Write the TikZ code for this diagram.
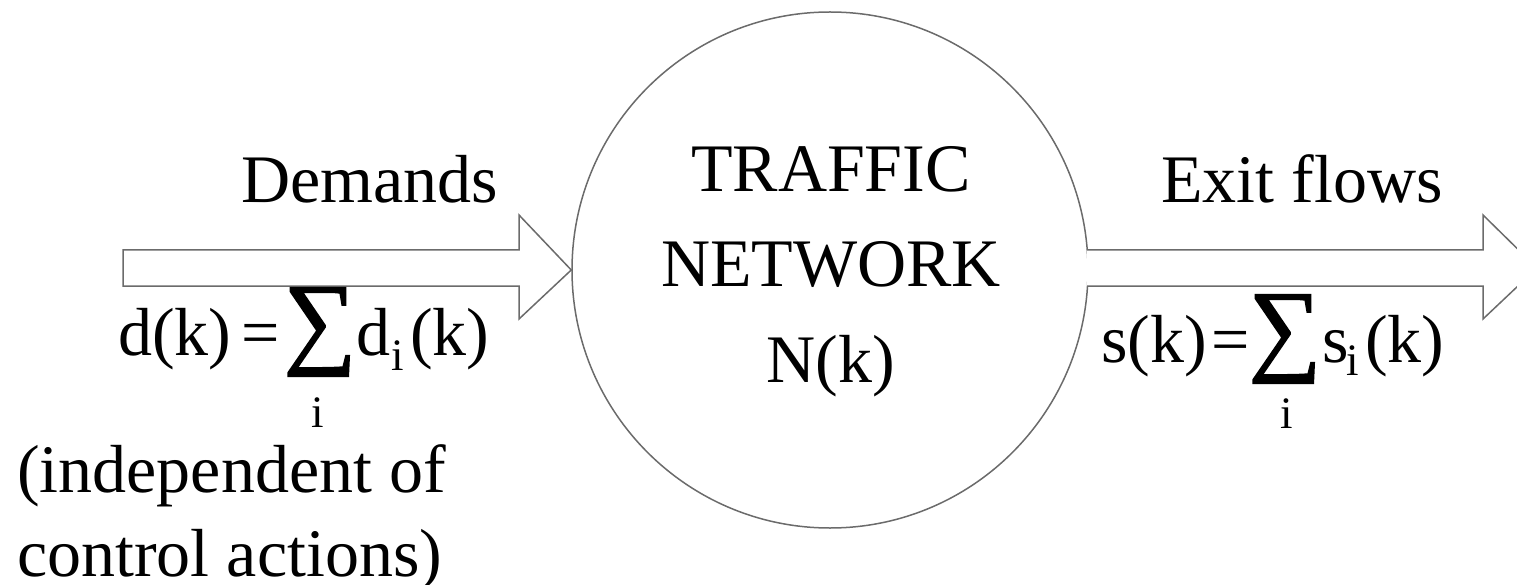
\documentclass[tikz,border=0pt]{standalone}
\usepackage{fontspec}
\setmainfont{Liberation Serif}
\newfontfamily\sumfont[FakeBold=1.5]{Liberation Serif}
\begin{document}
\begin{tikzpicture}[x=1pt,y=-1pt,
  big/.style={inner sep=0pt,font=\fontsize{68}{85}\selectfont},
  small/.style={inner sep=0pt,font=\fontsize{45}{50}\selectfont},
  sumsign/.style={inner sep=0pt,font=\fontsize{102}{102}\sumfont},
  outline/.style={draw=black!58,line width=1.5pt,fill=white}]
\useasboundingbox (0,0) rectangle (1517,585);
\clip (0,0) rectangle (1517,585);
% traffic network
\node[outline,circle,minimum size=516pt] (net) at (830,270) {};
\node[big,anchor=base] (t1) at (831,192) {TRAFFIC};
\node[big,anchor=base] (t2) at (831,287) {NETWORK};
\node[big,anchor=base] (t3) at (831,382) {N(k)};
% arrows
\coordinate (lt) at (net.west);
\draw[outline] (123,250) -- (519,250) -- (519,215) -- (lt) -- (519,319) -- (519,286) -- (123,286) -- cycle;
\coordinate (rt) at (1537,268);
\draw[outline] (1087,250) -- (1483,250) -- (1483,215) -- (rt) -- (1483,319) -- (1483,286) -- (1087,286);
% labels
\node[big,anchor=base] (dem) at (370,203) {Demands};
\node[big,anchor=base] (exf) at (1302,203) {Exit flows};
% left formula
\node[big,anchor=base west] (dk) at (118,355) {d(k)};
\node[big,anchor=base] (deq) at (261,355) {=};
\node[sumsign,anchor=center] (dsum) at (320,332) {∑};
\node[big,anchor=base west] (dd) at (356,355) {d};
\node[small,anchor=base] (ddi) at (398,370) {i};
\node[big,anchor=base west] (ddk) at (410,355) {(k)};
\node[small,anchor=base] (dsi) at (318,427) {i};
% right formula
\node[big,anchor=base west] (sk) at (1101,362) {s(k)};
\node[big,anchor=base] (seq) at (1231,362) {=};
\node[sumsign,anchor=center] (ssum) at (1285,339) {∑};
\node[big,anchor=base west] (ss) at (1322,362) {s};
\node[small,anchor=base] (ssi) at (1353,375) {i};
\node[big,anchor=base west] (ssk) at (1365,362) {(k)};
\node[small,anchor=base] (ssii) at (1287,428) {i};
% note
\node[big,anchor=base west] (n1) at (17,492) {(independent of};
\node[big,anchor=base west] (n2) at (17,576) {control actions)};
\end{tikzpicture}
\end{document}
